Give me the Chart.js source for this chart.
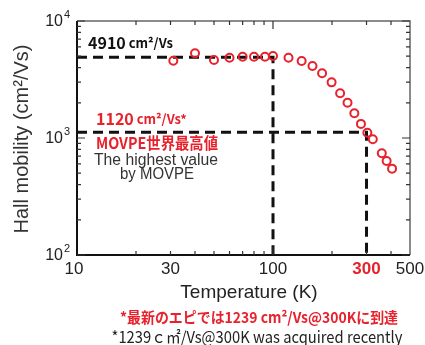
<!DOCTYPE html>
<html>
<head>
<meta charset="utf-8">
<script src="https://cdn.jsdelivr.net/npm/chart.js@4/dist/chart.umd.min.js"></script>
<style>
html, body { margin: 0; padding: 0; background: #fff; }
#c { display: block; }
</style>
</head>
<body>
<canvas id="c" width="425" height="345"></canvas>
<script>
// measured Hall mobility vs temperature
const temperatures = [31, 40, 50, 60, 70, 80, 91, 100, 120, 140, 159, 178, 199, 220, 240, 260, 281, 303, 323, 359, 380, 405];
const mobilities = [4580, 5300, 4640, 4860, 4950, 4950, 4950, 5030, 4860, 4550, 4120, 3570, 2990, 2410, 2000, 1630, 1320, 1110, 975, 740, 636, 547];

// reference lines (T, mobility)
const refTemps = [100, 300];
const refMobilities = [4910, 1120];

const xTickLabels = [10, 30, 100, 300, 500];
const yTickExponents = [2, 3, 4];
const xMinorTicks = [20, 30, 40, 50, 60, 70, 80, 90, 200, 300, 400];
const yMinorTicks = [200, 300, 400, 500, 600, 700, 800, 900, 2000, 3000, 4000, 5000, 6000, 7000, 8000, 9000];

const X_MIN = 10, X_MAX = 500, Y_MIN = 100, Y_MAX = 10000;
const RED = '#e8222c';

const points = temperatures.map((t, i) => ({ x: t, y: mobilities[i] }));
const refLines = refTemps.map((t, i) => [
    { x: X_MIN, y: refMobilities[i] },
    { x: t, y: refMobilities[i] },
    { x: t, y: Y_MIN },
]);

function drawRich(ctx, parts, x, y) {
    let cx = x;
    parts.forEach(p => {
        ctx.font = p.font;
        ctx.fillText(p.text, cx, y);
        cx += ctx.measureText(p.text).width;
    });
}

const frameAndLabels = {
    id: 'frameAndLabels',
    afterDraw(chart) {
        const ctx = chart.ctx;
        const a = chart.chartArea;
        const xs = chart.scales.x, ys = chart.scales.y;
        ctx.save();

        // frame
        ctx.strokeStyle = '#666';
        ctx.lineWidth = 1.5;
        ctx.beginPath();
        ctx.moveTo(a.left, a.top); ctx.lineTo(a.right, a.top); ctx.lineTo(a.right, a.bottom);
        ctx.stroke();
        ctx.strokeStyle = '#111';
        ctx.lineWidth = 2;
        ctx.beginPath();
        ctx.moveTo(a.left, a.top); ctx.lineTo(a.left, a.bottom); ctx.lineTo(a.right, a.bottom);
        ctx.stroke();

        // inward ticks
        ctx.lineWidth = 1.2;
        ctx.strokeStyle = '#333';
        ctx.beginPath();
        xMinorTicks.forEach(v => {
            const px = xs.getPixelForValue(v);
            ctx.moveTo(px, a.bottom); ctx.lineTo(px, a.bottom - 4);
            ctx.moveTo(px, a.top); ctx.lineTo(px, a.top + 4);
        });
        [100].forEach(v => {
            const px = xs.getPixelForValue(v);
            ctx.moveTo(px, a.bottom); ctx.lineTo(px, a.bottom - 8);
            ctx.moveTo(px, a.top); ctx.lineTo(px, a.top + 8);
        });
        yMinorTicks.forEach(v => {
            const py = ys.getPixelForValue(v);
            ctx.moveTo(a.left, py); ctx.lineTo(a.left + 4, py);
            ctx.moveTo(a.right, py); ctx.lineTo(a.right - 4, py);
        });
        yTickExponents.forEach(e => {
            const py = ys.getPixelForValue(Math.pow(10, e));
            ctx.moveTo(a.left, py); ctx.lineTo(a.left + 8, py);
            ctx.moveTo(a.right, py); ctx.lineTo(a.right - 8, py);
        });
        ctx.stroke();

        // x tick labels
        ctx.textBaseline = 'middle';
        ctx.textAlign = 'center';
        xTickLabels.forEach(v => {
            const px = xs.getPixelForValue(v);
            if (v === 300) {
                ctx.fillStyle = RED;
                ctx.font = 'bold 17px "Liberation Sans", Arial, sans-serif';
            } else {
                ctx.fillStyle = '#222';
                ctx.font = '17px "Liberation Sans", Arial, sans-serif';
            }
            ctx.fillText(String(v), v === 10 ? px - 3 : px, a.bottom + 14);
        });

        // y tick labels with superscript
        yTickExponents.forEach(e => {
            const py = ys.getPixelForValue(Math.pow(10, e));
            ctx.fillStyle = '#222';
            ctx.textAlign = 'right';
            ctx.font = '16px "Liberation Sans", Arial, sans-serif';
            ctx.fillText('10', a.left - 14, py + 1);
            ctx.textAlign = 'left';
            ctx.font = '11px "Liberation Sans", Arial, sans-serif';
            ctx.fillText(String(e), a.left - 13, py - 6);
        });

        // axis titles
        ctx.fillStyle = '#222';
        ctx.textAlign = 'center';
        ctx.font = '19px "Liberation Sans", Arial, sans-serif';
        ctx.fillText('Temperature (K)', 249, 293);
        ctx.save();
        ctx.translate(22, 139);
        ctx.rotate(-Math.PI / 2);
        ctx.fillStyle = '#333';
        ctx.font = '20px "Liberation Sans", Arial, sans-serif';
        ctx.fillText('Hall mobility (cm²/Vs)', 0, 0, 204);
        ctx.restore();

        // annotations
        const jp = '"Noto Sans CJK JP", "Noto Sans", sans-serif';
        ctx.textAlign = 'left';
        ctx.fillStyle = '#111';
        drawRich(ctx, [
            { text: '4910', font: `bold 16px ${jp}` },
            { text: ' cm²/Vs', font: `bold 13px ${jp}` },
        ], 88, 43);
        ctx.fillStyle = RED;
        drawRich(ctx, [
            { text: '1120', font: `bold 16px ${jp}` },
            { text: ' cm²/Vs*', font: `bold 13px ${jp}` },
        ], 96, 119);
        ctx.font = `bold 16px ${jp}`;
        ctx.fillText('MOVPE世界最高値', 96, 143, 122);
        ctx.fillStyle = '#333';
        ctx.textAlign = 'center';
        ctx.font = '16px "Liberation Sans", Arial, sans-serif';
        ctx.fillText('The highest value', 156, 161, 124);
        ctx.fillText('by MOVPE', 157, 175, 74);

        // footnotes
        ctx.fillStyle = RED;
        ctx.font = `bold 15px ${jp}`;
        ctx.fillText('*最新のエピでは1239 cm²/Vs@300Kに到達', 259, 317, 278);
        ctx.fillStyle = '#222';
        ctx.font = `16px ${jp}`;
        ctx.fillText('*1239ｃ㎡/Vs@300K was acquired recently', 257, 337, 291);

        ctx.restore();
    }
};

const ctx = document.getElementById('c').getContext('2d');
new Chart(ctx, {
    type: 'scatter',
    data: {
        datasets: [{
            data: points,
            pointStyle: 'circle',
            pointRadius: 4,
            borderWidth: 2,
            borderColor: RED,
            backgroundColor: 'rgba(0,0,0,0)',
            showLine: false,
        }].concat(refLines.map(line => ({
            data: line,
            showLine: true,
            borderColor: '#111',
            borderWidth: 3,
            borderDash: [10, 6],
            pointRadius: 0,
            fill: false,
        }))),
    },
    options: {
        responsive: false,
        animation: false,
        layout: { padding: { left: 77, right: 15, top: 21, bottom: 90 } },
        plugins: { legend: { display: false }, tooltip: { enabled: false } },
        scales: {
            x: {
                type: 'logarithmic', min: X_MIN, max: X_MAX,
                grid: { display: false, drawTicks: false },
                ticks: { display: false },
                border: { display: false },
            },
            y: {
                type: 'logarithmic', min: Y_MIN, max: Y_MAX,
                grid: { display: false, drawTicks: false },
                ticks: { display: false },
                border: { display: false },
            },
        },
    },
    plugins: [frameAndLabels],
});
</script>
</body>
</html>
